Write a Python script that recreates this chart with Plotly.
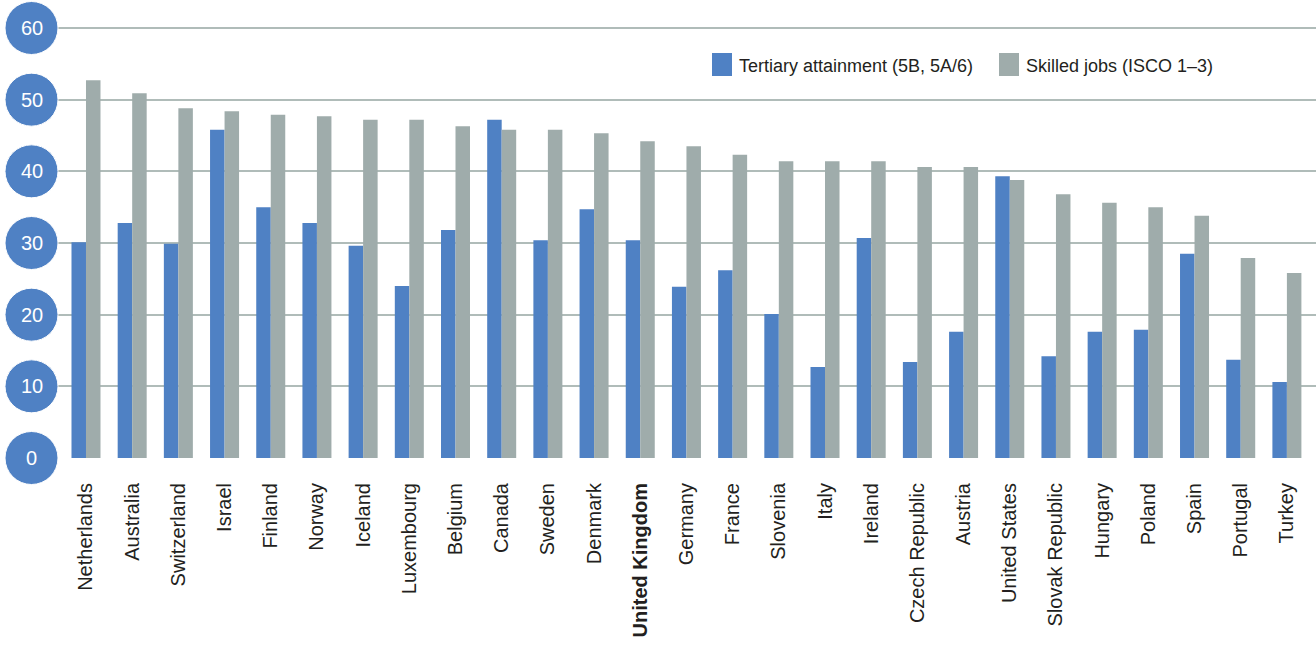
import plotly.graph_objects as go

# Share of the population with tertiary attainment vs. share of skilled jobs (%)
countries = [
    "Netherlands", "Australia", "Switzerland", "Israel", "Finland", "Norway",
    "Iceland", "Luxembourg", "Belgium", "Canada", "Sweden", "Denmark",
    "United Kingdom", "Germany", "France", "Slovenia", "Italy", "Ireland",
    "Czech Republic", "Austria", "United States", "Slovak Republic",
    "Hungary", "Poland", "Spain", "Portugal", "Turkey",
]
tertiary_attainment = [
    30.1, 32.8, 29.9, 45.8, 35.0, 32.8, 29.6, 24.0, 31.8, 47.2, 30.4, 34.7,
    30.4, 23.9, 26.2, 20.1, 12.7, 30.7, 13.4, 17.6, 39.3, 14.2, 17.6, 17.9,
    28.5, 13.7, 10.6,
]
skilled_jobs = [
    52.7, 50.9, 48.8, 48.4, 47.9, 47.7, 47.2, 47.2, 46.3, 45.8, 45.8, 45.3,
    44.2, 43.5, 42.3, 41.4, 41.4, 41.4, 40.6, 40.6, 38.8, 36.8, 35.6, 35.0,
    33.8, 27.9, 25.8,
]
series_names = ["Tertiary attainment (5B, 5A/6)", "Skilled jobs (ISCO 1\u20133)"]
y_ticks = [0, 10, 20, 30, 40, 50, 60]
highlight = "United Kingdom"

BLUE = "#4f81c4"
GREY = "#9facab"
GRID = "#b0bcb9"
TEXT = "#231f20"
FONT = "Liberation Sans"

W, H = 1316, 646
ML, MR, MT, MB = 58, 0, 26, 188
PW, PH = W - ML - MR, H - MT - MB
Y_MAX = 60 * PH / 430  # leaves a little headroom above the top gridline


def px_x(px):
    return (px - ML) / PW


def px_y(py):
    return (H - MB - py) / PH


tick_text = [f"<b>{c}</b>" if c == highlight else c for c in countries]

fig = go.Figure()
fig.add_trace(go.Bar(x=countries, y=tertiary_attainment, name=series_names[0],
                     marker=dict(color=BLUE, line=dict(width=0))))
fig.add_trace(go.Bar(x=countries, y=skilled_jobs, name=series_names[1],
                     marker=dict(color=GREY, line=dict(width=0))))

shapes = []
annotations = []

# Round blue badges holding the y-axis values
for v in y_ticks:
    yp = v / Y_MAX
    shapes.append(dict(
        type="circle", xref="paper", yref="paper",
        xsizemode="pixel", ysizemode="pixel",
        xanchor=px_x(31.5), yanchor=yp,
        x0=-26.5, x1=26.5, y0=-26.5, y1=26.5,
        fillcolor=BLUE, line=dict(width=1, color="#ffffff"), layer="above",
    ))
    annotations.append(dict(
        x=px_x(31.5), y=yp, xref="paper", yref="paper", text=str(v),
        showarrow=False, xanchor="center", yanchor="middle",
        font=dict(family=FONT, size=20, color="#ffffff"),
    ))

# Legend swatches and labels
legend_items = [(712, BLUE, series_names[0]), (999, GREY, series_names[1])]
for x_left, col, label in legend_items:
    shapes.append(dict(
        type="rect", xref="paper", yref="paper",
        x0=px_x(x_left), x1=px_x(x_left + 20),
        y0=px_y(76), y1=px_y(53),
        fillcolor=col, line=dict(width=0),
    ))
    annotations.append(dict(
        x=px_x(x_left + 25), y=px_y(66), xref="paper", yref="paper",
        text=label, showarrow=False, xanchor="left", yanchor="middle",
        font=dict(family=FONT, size=18, color=TEXT),
    ))

fig.update_layout(
    width=W, height=H,
    margin=dict(l=ML, r=MR, t=MT, b=MB, pad=0),
    paper_bgcolor="#ffffff", plot_bgcolor="#ffffff",
    barmode="group", bargap=0.372, bargroupgap=0,
    showlegend=False,
    font=dict(family=FONT, color=TEXT),
    shapes=shapes, annotations=annotations,
)
fig.update_xaxes(
    type="category", categoryorder="array", categoryarray=countries,
    tickmode="array", tickvals=countries, ticktext=tick_text,
    tickangle=-90, tickfont=dict(family=FONT, size=20, color=TEXT),
    range=[-0.606, 26.63], showgrid=False, zeroline=False, showline=False,
    ticks="", ticklabelstandoff=20,
)
fig.update_yaxes(
    range=[0, Y_MAX], tickvals=y_ticks, showticklabels=False,
    showgrid=True, gridcolor=GRID, gridwidth=2,
    zeroline=False, showline=False, ticks="",
)

fig.write_html("out.html")
